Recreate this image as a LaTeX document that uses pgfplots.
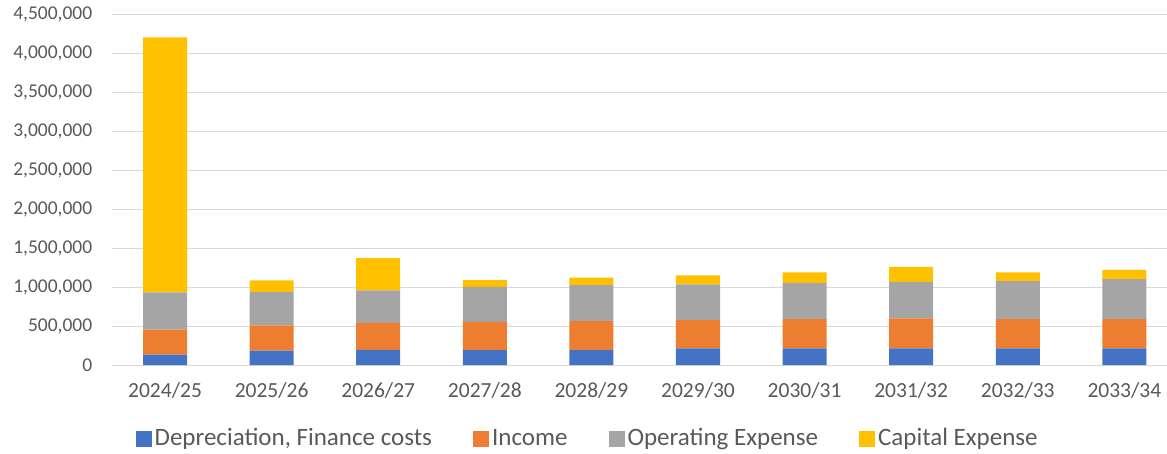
\documentclass[border=0pt]{standalone}
\usepackage{fontspec}
\setmainfont{Carlito}
\usepackage{pgfplots}
\pgfplotsset{compat=1.18}
\definecolor{cblue}{HTML}{4472C4}
\definecolor{corange}{HTML}{ED7D31}
\definecolor{cgray}{HTML}{A5A5A5}
\definecolor{cyellow}{HTML}{FFC000}
\definecolor{ctext}{HTML}{595959}
\definecolor{cgrid}{HTML}{D9D9D9}
\begin{document}
\begin{tikzpicture}
\begin{axis}[
  name=ax,
  ybar stacked,
  scale only axis,
  width=1055pt, height=351pt,
  xmin=-0.5, xmax=9.4,
  ymin=0, ymax=4500000,
  bar width=44pt,
  ytick={0,500000,1000000,1500000,2000000,2500000,3000000,3500000,4000000,4500000},
  xtick={0,...,9},
  xticklabels={2024/25,2025/26,2026/27,2027/28,2028/29,2029/30,2030/31,2031/32,2032/33,2033/34},
  scaled y ticks=false,
  yticklabel style={font=\fontsize{19.5}{22}\selectfont, text=ctext,
    /pgf/number format/fixed, /pgf/number format/1000 sep={,}, /pgf/number format/assume math mode=true},
  xticklabel style={font=\fontsize{21.5}{24}\selectfont, text=ctext},
  major tick length=0pt,
  axis line style={draw=none},
  ymajorgrids,
  grid style={draw=cgrid, line width=1pt},
  xticklabel shift=14pt,
  yticklabel shift=16pt,
  legend columns=-1,
  legend style={draw=none, fill=none, font=\fontsize{25}{28}\selectfont, text=ctext,
    at={(rel axis cs:0.4515,0)}, anchor=center, yshift=-74pt,
    nodes={inner xsep=3pt, text height=17pt, text depth=5pt},
    /tikz/every even column/.append style={column sep=38pt}},
  legend image code/.code={\fill[#1] (0pt,-7.5pt) rectangle (16pt,8.5pt);},
  every axis plot/.append style={draw=none},
]
\addplot[fill=cblue] coordinates {(0,135000) (1,187000) (2,196000) (3,192000) (4,192000) (5,214000) (6,214000) (7,214000) (8,214000) (9,214000)};
\addplot[fill=corange] coordinates {(0,320000) (1,323000) (2,345000) (3,363000) (4,372000) (5,363000) (6,376000) (7,385000) (8,376000) (9,376000)};
\addplot[fill=cgray] coordinates {(0,477000) (1,427000) (2,417000) (3,449000) (4,462000) (5,457000) (6,465000) (7,465000) (8,487000) (9,513000)};
\addplot[fill=cyellow] coordinates {(0,3268000) (1,149000) (2,414000) (3,86000) (4,94000) (5,116000) (6,135000) (7,196000) (8,113000) (9,117000)};
\legend{{Depreciation, Finance costs}, Income, Operating Expense, Capital Expense}
\end{axis}
\pgfresetboundingbox
\path[use as bounding box] ([shift={(-111.7pt,-88pt)}]ax.south west) rectangle ([shift={(0pt,14pt)}]ax.north east);
\end{tikzpicture}
\end{document}
